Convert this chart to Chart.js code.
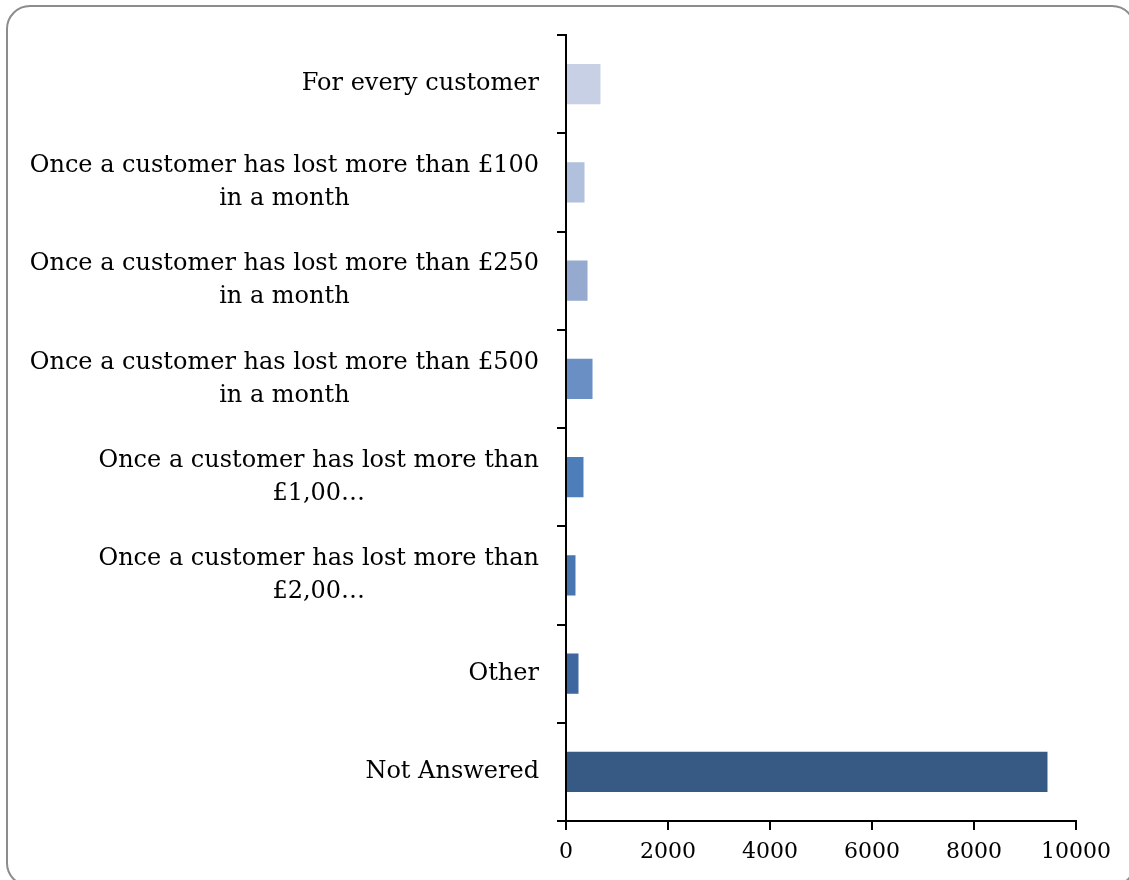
<!DOCTYPE html>
<html>
<head>
<meta charset="utf-8">
<script src="https://cdn.jsdelivr.net/npm/chart.js@4/dist/chart.umd.min.js"></script>
<style>
  html, body { margin: 0; padding: 0; background: #fff; overflow: hidden; }
  #wrap { position: relative; width: 1129px; height: 880px; }
  #frame {
    position: absolute; left: 6px; top: 5px; width: 1130px; height: 882px;
    border: 2px solid #8c8c8c; border-radius: 24px; box-sizing: border-box;
    pointer-events: none;
  }
  canvas { position: absolute; left: 0; top: 0; }
</style>
</head>
<body>
<div id="wrap">
  <canvas id="chart" width="1129" height="880"></canvas>
  <div id="frame"></div>
</div>
<script>
'use strict';

const categories = [
  'For every customer',
  ['Once a customer has lost more than £100', 'in a month'],
  ['Once a customer has lost more than £250', 'in a month'],
  ['Once a customer has lost more than £500', 'in a month'],
  ['Once a customer has lost more than', '£1,00…'],
  ['Once a customer has lost more than', '£2,00…'],
  'Other',
  'Not Answered',
];
const responses = [676, 363, 422, 520, 343, 186, 245, 9441];
const barColors = [
  '#c7d0e4', '#b1c1dd', '#96aacf', '#6a8fc4',
  '#4e7eba', '#4876b0', '#3f679f', '#375a85',
];
const xTicks = [0, 2000, 4000, 6000, 8000, 10000];

const FONT = '"DejaVu Serif", "Liberation Serif", serif';
const LABEL_SIZE = 24;
const LINE_H = 33;
const LABEL_GAP = 27; // axis line to right edge of the category text

// category labels: each block right-aligned, lines centred inside the block
const categoryLabels = {
  id: 'categoryLabels',
  afterDraw(chart) {
    const ctx = chart.ctx;
    const y = chart.scales.y;
    ctx.save();
    ctx.font = `${LABEL_SIZE}px ${FONT}`;
    ctx.fillStyle = '#000';
    ctx.textAlign = 'center';
    ctx.textBaseline = 'middle';
    categories.forEach((lab, i) => {
      const lines = Array.isArray(lab) ? lab : [lab];
      const w = Math.max(...lines.map((l) => ctx.measureText(l).width));
      const cx = y.right - LABEL_GAP - w / 2;
      const cy = y.getPixelForValue(i);
      lines.forEach((l, k) => {
        ctx.fillText(l, cx, cy + (k - (lines.length - 1) / 2) * LINE_H);
      });
    });
    ctx.restore();
  },
};

new Chart(document.getElementById('chart').getContext('2d'), {
  type: 'bar',
  data: {
    labels: categories,
    datasets: [{
      data: responses,
      backgroundColor: barColors,
      borderWidth: 0,
      categoryPercentage: 1,
      barPercentage: 0.41,
    }],
  },
  options: {
    indexAxis: 'y',
    responsive: false,
    animation: false,
    layout: { padding: { top: 35, right: 53, bottom: 0, left: 0 } },
    plugins: { legend: { display: false }, tooltip: { enabled: false } },
    scales: {
      x: {
        min: xTicks[0],
        max: xTicks[xTicks.length - 1],
        afterBuildTicks(scale) {
          scale.ticks = xTicks.map((v) => ({ value: v }));
        },
        ticks: {
          color: '#000',
          font: { family: FONT, size: 22 },
          padding: 9,
          maxRotation: 0,
          autoSkip: false,
          callback: (v) => String(v),
        },
        grid: { drawOnChartArea: false, tickLength: 9, color: '#000', lineWidth: 2 },
        border: { color: '#000', width: 2 },
        afterFit(scale) { scale.height = 59; },
      },
      y: {
        ticks: { display: false },
        grid: { drawOnChartArea: false, tickLength: 9, color: '#000', lineWidth: 2, offset: true },
        border: { color: '#000', width: 2 },
        afterFit(scale) { scale.width = 566; },
      },
    },
  },
  plugins: [categoryLabels],
});
</script>
</body>
</html>
